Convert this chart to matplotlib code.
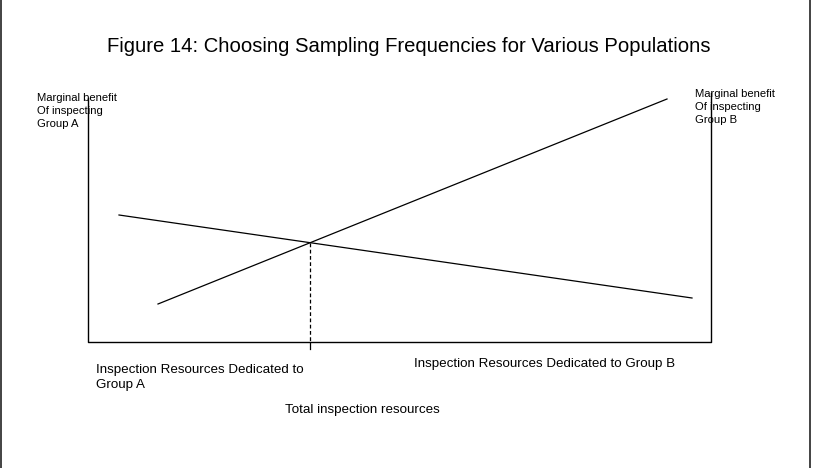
import numpy as np
import matplotlib.pyplot as plt

plt.rcParams['font.family'] = ['Liberation Sans', 'DejaVu Sans']

# schematic diagram, coordinates in diagram units (0..820 wide, 0..468 tall, y down)
title = "Figure 14: Choosing Sampling Frequencies for Various Populations"

# marginal benefit curves (start, end)
group_a_x = [119, 692]
group_a_y = [215, 298]
group_b_x = [158, 667]
group_b_y = [304, 99]

# box around the diagram (left, bottom, right sides only)
box_left, box_right, box_bottom = 88, 711, 342
box_left_top, box_right_top = 98, 93

label_a = "Marginal benefit\nOf inspecting\nGroup A"
label_b = "Marginal benefit\nOf inspecting\nGroup B"
res_a = "Inspection Resources Dedicated to\nGroup A"
res_b = "Inspection Resources Dedicated to Group B"
total = "Total inspection resources"


def intersect(x1, y1, x2, y2):
    m1 = (y1[1] - y1[0]) / (x1[1] - x1[0])
    m2 = (y2[1] - y2[0]) / (x2[1] - x2[0])
    c1 = y1[0] - m1 * x1[0]
    c2 = y2[0] - m2 * x2[0]
    x = (c2 - c1) / (m1 - m2)
    return x, m1 * x + c1


fig = plt.figure(figsize=(8.2, 4.68), dpi=100)
ax = fig.add_axes([0, 0, 1, 1])
ax.set_xlim(0, 820)
ax.set_ylim(468, 0)
ax.axis('off')

# outer frame (left/right)
ax.plot([1.5, 1.5], [0, 468], color='#222222', lw=1.2)
ax.plot([810, 810], [0, 468], color='#222222', lw=1.2)

# box
ax.plot([box_left, box_left, box_right, box_right],
        [box_left_top, box_bottom, box_bottom, box_right_top], color='black', lw=1)

ax.plot(group_a_x, group_a_y, color='black', lw=0.9)
ax.plot(group_b_x, group_b_y, color='black', lw=0.9)

xi, yi = intersect(group_a_x, group_a_y, group_b_x, group_b_y)
ax.plot([xi, xi], [yi, box_bottom], color='black', lw=0.9, linestyle=(0, (3, 2)))
ax.plot([xi, xi], [box_bottom, 349], color='black', lw=0.9)

ax.text(409, 46.5, title, fontsize=14.6, ha='center', va='center')
ax.text(37, 93, label_a, fontsize=8.1, ha='left', va='top', linespacing=1.38)
ax.text(695, 89, label_b, fontsize=8.1, ha='left', va='top', linespacing=1.38)
ax.text(96, 364.5, res_a, fontsize=9.6, ha='left', va='top', linespacing=1.3)
ax.text(414, 358.5, res_b, fontsize=9.6, ha='left', va='top')
ax.text(285, 404, total, fontsize=9.6, ha='left', va='top')

fig.savefig("out.png", dpi=100)
